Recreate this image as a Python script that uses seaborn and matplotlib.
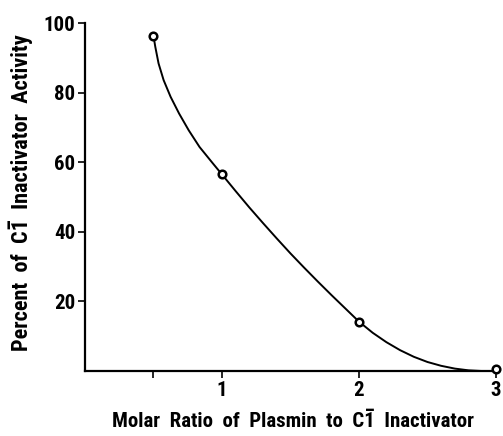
import pandas as pd
import numpy as np
import seaborn as sns
import matplotlib.pyplot as plt

# measured points
ratio = [0.5, 1.0, 2.0, 3.0]
activity = [96.3, 56.5, 14.2, 0.5]

# hand-drawn fitted curve
curve_x = [0.5, 0.513, 0.537, 0.574, 0.625, 0.687, 0.757, 0.836, 0.935, 1.0,
           1.1, 1.2, 1.3, 1.4, 1.5, 1.6, 1.7, 1.8, 1.9, 2.0,
           2.1, 2.2, 2.3, 2.4, 2.5, 2.6, 2.7, 2.8, 2.9, 3.0]
curve_y = [96.3, 93.2, 88.4, 83.6, 78.8, 74.0, 69.2, 64.4, 59.6, 56.5,
           51.7, 47.0, 42.5, 38.1, 33.8, 29.7, 25.7, 21.8, 18.0, 14.2,
           11.0, 8.3, 6.0, 4.1, 2.6, 1.5, 0.7, 0.2, 0.0, 0.0]

x_ticks = [0.5, 1, 2, 3]
x_tick_labels = ['', '1', '2', '3']
y_ticks = [20, 40, 60, 80, 100]
y_tick_labels = ['20', '40', '60', '80', '100']


def plot_activity():
    sns.set_style('ticks')
    plt.rcParams['font.family'] = ['Roboto Condensed', 'DejaVu Sans']
    plt.rcParams['font.weight'] = 'bold'
    for key in ['text.color', 'axes.labelcolor', 'xtick.color', 'ytick.color']:
        plt.rcParams[key] = 'black'

    fig = plt.figure(figsize=(5.03, 4.36), dpi=100)
    ax = fig.add_axes([0.169, 0.149, 0.817, 0.798])

    curve = pd.DataFrame({'x': curve_x, 'y': curve_y})
    points = pd.DataFrame({'x': ratio, 'y': activity})

    sns.lineplot(data=curve, x='x', y='y', ax=ax, color='black', lw=1.4,
                 sort=False, estimator=None)
    sns.scatterplot(data=points, x='x', y='y', ax=ax, s=30, marker='o',
                    facecolor='white', edgecolor='black', linewidth=1.8,
                    zorder=5, clip_on=False)

    ax.set_xlim(0, 3)
    ax.set_ylim(0, 100)
    ax.set_xticks(x_ticks)
    ax.set_xticklabels(x_tick_labels)
    ax.set_yticks(y_ticks)
    ax.set_yticklabels(y_tick_labels)
    ax.tick_params(axis='both', labelsize=15, width=1.2, length=5, pad=2)
    for lab in ax.get_xticklabels() + ax.get_yticklabels():
        lab.set_fontweight('bold')

    for side in ['top', 'right']:
        ax.spines[side].set_visible(False)
    for side in ['left', 'bottom']:
        ax.spines[side].set_linewidth(1.6)
        ax.spines[side].set_color('black')

    ax.set_xlabel('Molar  Ratio  of  Plasmin  to  C1\u0305  Inactivator',
                  fontsize=15, fontweight='bold', va='center')
    ax.set_ylabel('Percent  of  C1\u0305  Inactivator  Activity',
                  fontsize=16, fontweight='bold', va='center')
    ax.xaxis.set_label_coords(0.505, -0.144)
    ax.yaxis.set_label_coords(-0.156, 0.513)

    fig.savefig('out.png', dpi=100)


def main():
    plot_activity()


if __name__ == '__main__':
    main()
